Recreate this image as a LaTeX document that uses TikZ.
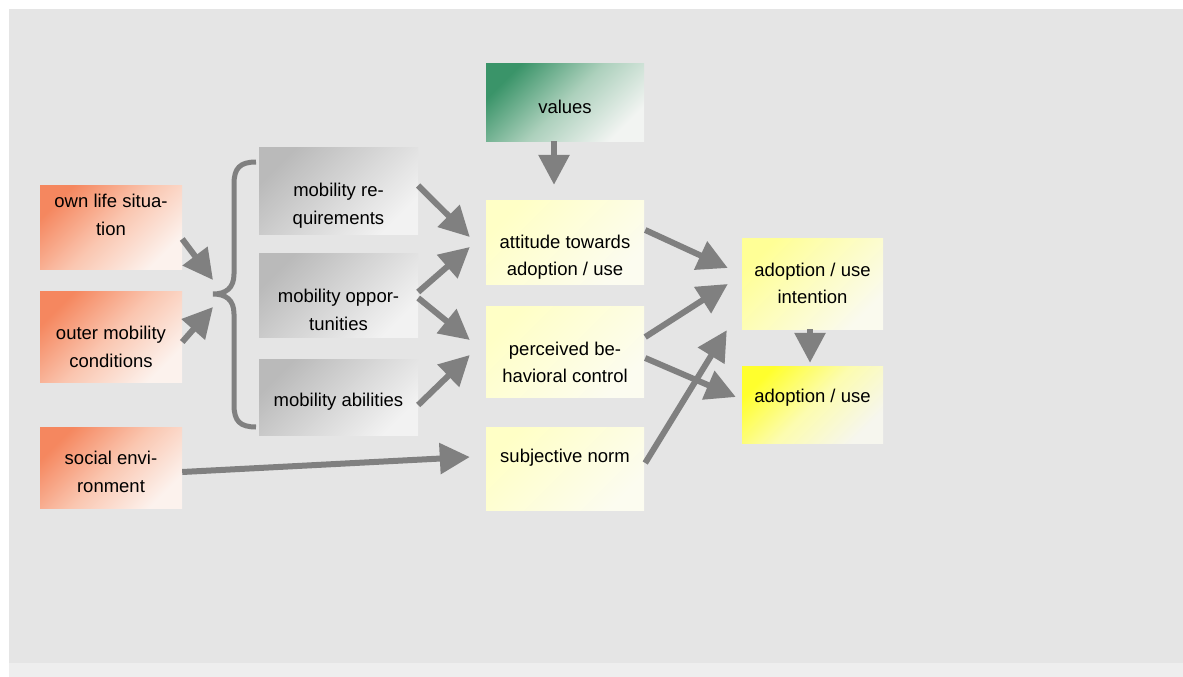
\documentclass[tikz,border=0pt]{standalone}
\usepackage{fontspec}
\setmainfont{Liberation Sans}
\usetikzlibrary{arrows.meta}

\definecolor{bgtex}{RGB}{229,229,229}
\definecolor{bgstrip}{RGB}{238,238,238}
\definecolor{lifeor}{RGB}{245,135,95}
\definecolor{lifemid}{RGB}{250,198,176}
\definecolor{lifeend}{RGB}{252,242,237}
\definecolor{mobgr}{RGB}{186,186,186}
\definecolor{mobend}{RGB}{242,242,242}
\definecolor{valgr}{RGB}{58,148,105}
\definecolor{valmid}{RGB}{172,208,188}
\definecolor{valend}{RGB}{242,244,242}
\definecolor{paley}{RGB}{255,255,198}
\definecolor{paleend}{RGB}{252,252,240}
\definecolor{inty}{RGB}{255,255,150}
\definecolor{intend}{RGB}{250,250,238}
\definecolor{adopy}{RGB}{255,255,45}
\definecolor{adopmid}{RGB}{252,252,175}
\definecolor{adopend}{RGB}{246,246,238}

\begin{document}
\begin{tikzpicture}[x=1pt,y=-1pt,>={Triangle[length=30pt,width=30pt]},
  box/.style={inner sep=0pt,minimum width=158pt},
  obox/.style={box,top color=lifeor,bottom color=lifeend,middle color=lifemid,shading angle=45},
  gbox/.style={box,minimum width=159pt,top color=mobgr,bottom color=mobend,shading angle=45},
  vbox/.style={box,top color=valgr,bottom color=valend,middle color=valmid,shading angle=45},
  ybox/.style={box,top color=paley,bottom color=paleend,shading angle=45},
  ibox/.style={box,minimum width=141pt,top color=inty,bottom color=intend,shading angle=45},
  abox/.style={box,minimum width=141pt,top color=adopy,bottom color=adopend,middle color=adopmid,shading angle=45},
  every label/.style={align=center,font=\fontsize{18.5}{27.5}\selectfont},
  arr/.style={->,draw=gray,line width=6pt},
  bracepath/.style={draw=gray,line width=5pt}]
  \useasboundingbox (0,0) rectangle (1183,677);
  % textured page
  \fill[bgtex] (9,9) rectangle (1183,663);
  \fill[bgstrip] (9,663) rectangle (1183,677);

  % context factors
  \node[obox,minimum width=142pt,minimum height=84pt,label={[yshift=12pt]center:{own life situa-\\tion}}] (own) at (111,227) {};
  \node[obox,minimum width=142pt,minimum height=91pt,label={[yshift=-10.5pt]center:{outer mobility\\conditions}}] (outer) at (111,336.5) {};
  \node[obox,minimum width=142pt,minimum height=81pt,label={[yshift=-4.5pt]center:{social envi-\\ronment}}] (social) at (111,467.5) {};

  % mobility
  \node[gbox,minimum height=87pt,label={[yshift=-15pt]center:{mobility re-\\quirements}}] (req) at (338.5,190.5) {};
  \node[gbox,minimum height=84pt,label={[yshift=-15pt]center:{mobility oppor-\\tunities}}] (opp) at (338.5,295) {};
  \node[gbox,minimum height=76pt,label={[yshift=-5pt]center:{mobility abilities}}] (abil) at (338.5,397) {};

  \coordinate (brc) at (213,294);
  \draw[bracepath] (256,162) .. controls (240,162) and (234,168) .. (234,184) -- (234,274)
    .. controls (234,288) and (226,294) .. (brc) .. controls (226,294) and (234,300) .. (234,314)
    -- (234,405) .. controls (234,421) and (240,427) .. (256,427);

  % theory of planned behaviour
  \node[vbox,minimum height=77pt,label={[yshift=-4.5pt]center:values}] (val) at (565,102.5) {};
  \node[ybox,minimum height=84pt,label={[yshift=-15pt]center:{attitude towards\\adoption / use}}] (att) at (565,242) {};
  \node[ybox,minimum height=91pt,label={[yshift=-11pt]center:{perceived be-\\havioral control}}] (perc) at (565,351.5) {};
  \node[ybox,minimum height=83pt,label={[yshift=10.5pt]center:{subjective norm}}] (subj) at (565,468.5) {};
  \node[ibox,minimum height=91pt,label={center:{adoption / use\\intention}}] (int) at (812.5,283.5) {};
  \node[abox,minimum height=77pt,label={[yshift=6.5pt]center:{adoption / use}}] (adop) at (812.5,404.5) {};

  % arrows
  \draw[arr] ([shift={(0,12)}]own.east) -- ([shift={(0,-14)}]brc);
  \draw[arr] ([shift={(0,5.5)}]outer.east) -- ([shift={(0,13)}]brc);
  \draw[arr] ([shift={(0,4.5)}]social.east) -- ([shift={(-16,-11.5)}]subj.west);
  \draw[arr] ([shift={(0,-5)}]req.east) -- ([shift={(-16,-5)}]att.west);
  \draw[arr] ([shift={(0,-3)}]opp.east) -- ([shift={(-16,5)}]att.west);
  \draw[arr] ([shift={(0,3)}]opp.east) -- ([shift={(-16,-11.5)}]perc.west);
  \draw[arr] ([shift={(0,8)}]abil.east) -- ([shift={(-16,3.5)}]perc.west);
  \draw[arr] ([shift={(-11,0)}]val.south) -- ([shift={(-11,-15)}]att.north);
  \draw[arr] ([shift={(1,-12)}]att.east) -- ([shift={(-14,-15.5)}]int.west);
  \draw[arr] ([shift={(1,-14.5)}]perc.east) -- ([shift={(-14,0.5)}]int.west);
  \draw[arr] ([shift={(1,6.5)}]perc.east) -- ([shift={(-6,-7.5)}]adop.west);
  \draw[arr] ([shift={(1,-5.5)}]subj.east) -- ([shift={(-15,1)}]int.south west);
  \draw[arr] ([shift={(-2.5,0)}]int.south) -- ([shift={(-2.5,-3)}]adop.north);
\end{tikzpicture}
\end{document}
